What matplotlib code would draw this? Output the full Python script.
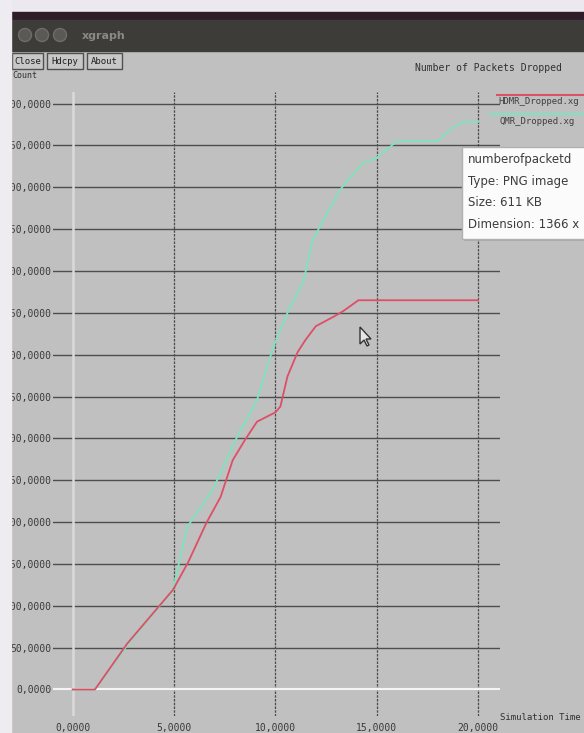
import matplotlib.pyplot as plt
from matplotlib.patches import Rectangle, Circle, Polygon

# packets dropped over simulation time (xgraph output of two trace files)
hdmr_t = [0, 1.1, 2.7, 4.95, 5.7, 6.6, 7.3, 7.9, 8.5, 9.1, 10.0, 10.25, 10.6, 11.1, 11.5, 12.0, 12.85, 13.35, 14.1, 20.0]
hdmr_y = [0, 0, 55, 119, 152, 199, 230, 274, 298, 320, 331, 338, 374, 403, 418, 434, 445, 452, 465, 465]

qmr_t = [0, 1.1, 2.7, 4.95, 5.65, 6.9, 8.1, 9.1, 9.9, 10.6, 11.4, 11.85, 12.55, 13.2, 13.7, 14.35, 15.0, 16.0, 18.0, 18.8, 19.3, 20.0]
qmr_y = [0, 0, 53, 119, 194, 238, 301, 346, 409, 450, 489, 537, 569, 597, 612, 629, 635, 655, 655, 672, 678, 678]

x_ticks = [0, 5, 10, 15, 20]
y_ticks = [0, 50, 100, 150, 200, 250, 300, 350, 400, 450, 500, 550, 600, 650, 700]
series_names = ["HDMR_Dropped.xg", "QMR_Dropped.xg"]
series_colors = ["#dd4f66", "#7fe3bd"]

W, H = 584, 733
mono = "DejaVu Sans Mono"
fig = plt.figure(figsize=(W / 100, H / 100), dpi=100)
fig.patch.set_facecolor("#c0c0c0")

# window chrome (pixel coordinates)
bg = fig.add_axes([0, 0, 1, 1], zorder=0)
bg.set_xlim(0, W)
bg.set_ylim(H, 0)
bg.axis("off")
bg.add_patch(Rectangle((0, 0), W, 13, color="#ece8ef"))
bg.add_patch(Rectangle((0, 12), W, 9, color="#2e1c2a"))
bg.add_patch(Rectangle((0, 20), W, 31, color="#3d3c38"))
for cx in [25, 42, 60]:
    bg.add_patch(Circle((cx, 35), 6.5, fc="#5a5955", ec="#6e6d69", lw=1))
bg.text(82, 36, "xgraph", color="#8a8985", fontsize=8, va="center", fontweight="bold")
for x0, x1, label in [(12, 43, "Close"), (47, 83, "Hdcpy"), (87, 122, "About")]:
    bg.add_patch(Rectangle((x0, 53), x1 - x0, 16, fc="#c8c8c8", ec="#505050", lw=1))
    bg.text((x0 + x1) / 2, 61.5, label, fontsize=6.5, family=mono, ha="center", va="center", color="#202020")
bg.text(12, 75, "Count", fontsize=6, family=mono, va="center", color="#303030")
bg.text(415, 68, "Number of Packets Dropped", fontsize=7, family=mono, va="center", color="#303030")
bg.text(500, 718, "Simulation Time", fontsize=6.5, family=mono, va="center", color="#303030")

# legend: line above each file name
bg.plot([497, W], [95, 95], color=series_colors[0], lw=1.5)
bg.text(498, 102, series_names[0], fontsize=6.5, family=mono, va="center", color="#404040")
bg.plot([490, W], [114, 114], color=series_colors[1], lw=1.5)
bg.text(499, 122, series_names[1], fontsize=6.5, family=mono, va="center", color="#404040")

# plot area
ax = fig.add_axes([53 / W, (H - 716) / H, 447 / W, 624 / H], zorder=1)
ax.patch.set_alpha(0)
ax.set_xlim(-0.967, 21.085)
ax.set_ylim(-31.66, 713.77)
for s in ax.spines.values():
    s.set_visible(False)

for yv in y_ticks[1:]:
    ax.axhline(yv, color="#4e4e4e", lw=1.0, zorder=1)
for xv in x_ticks[1:]:
    ax.axvline(xv, color="#4a4a4a", lw=0.9, ls=(0, (2, 1)), zorder=1)
ax.axvline(0, color="#dadada", lw=1.8, zorder=1)
ax.axhline(0, color="#f4f4f4", lw=1.5, zorder=1)

ax.plot(qmr_t, qmr_y, color=series_colors[1], lw=1.3, zorder=3)
ax.plot(hdmr_t, hdmr_y, color=series_colors[0], lw=1.3, zorder=4)

ax.set_yticks(y_ticks)
ax.set_yticklabels([f"{v:.4f}".replace(".", ",") for v in y_ticks])
ax.set_xticks(x_ticks)
ax.set_xticklabels([f"{v:.4f}".replace(".", ",") for v in x_ticks])
ax.tick_params(axis="y", length=0, pad=1, labelsize=7, labelcolor="#3a3a3a")
ax.tick_params(axis="x", length=0, pad=5, labelsize=7, labelcolor="#3a3a3a")
for lab in ax.get_xticklabels() + ax.get_yticklabels():
    lab.set_family(mono)

# overlays: page margin, file tooltip, mouse pointer
ov = fig.add_axes([0, 0, 1, 1], zorder=2)
ov.set_xlim(0, W)
ov.set_ylim(H, 0)
ov.axis("off")
ov.patch.set_alpha(0)
ov.add_patch(Rectangle((0, 0), 11, H, color="#eeecf1"))
ov.add_patch(Rectangle((464, 149), 130, 92, fc="#9a9a9a", ec="none", alpha=0.5))
ov.add_patch(Rectangle((462, 147), 130, 92, fc="#fbfbfb", ec="#b0b0b0", lw=1))
for yy, line in [(160, "numberofpacketd"), (182, "Type: PNG image"),
                 (203, "Size: 611 KB"), (225, "Dimension: 1366 x")]:
    ov.text(468, yy, line, fontsize=8.5, va="center", color="#3c3c3c")
ptr = [(0, 0), (0, 17), (4, 13), (7, 19), (9, 18), (6, 12), (11, 12)]
ov.add_patch(Polygon([(360 + px, 327 + py) for px, py in ptr], closed=True,
                     fc="#e6e6e6", ec="#333333", lw=1))

fig.savefig("out.png", dpi=100)
